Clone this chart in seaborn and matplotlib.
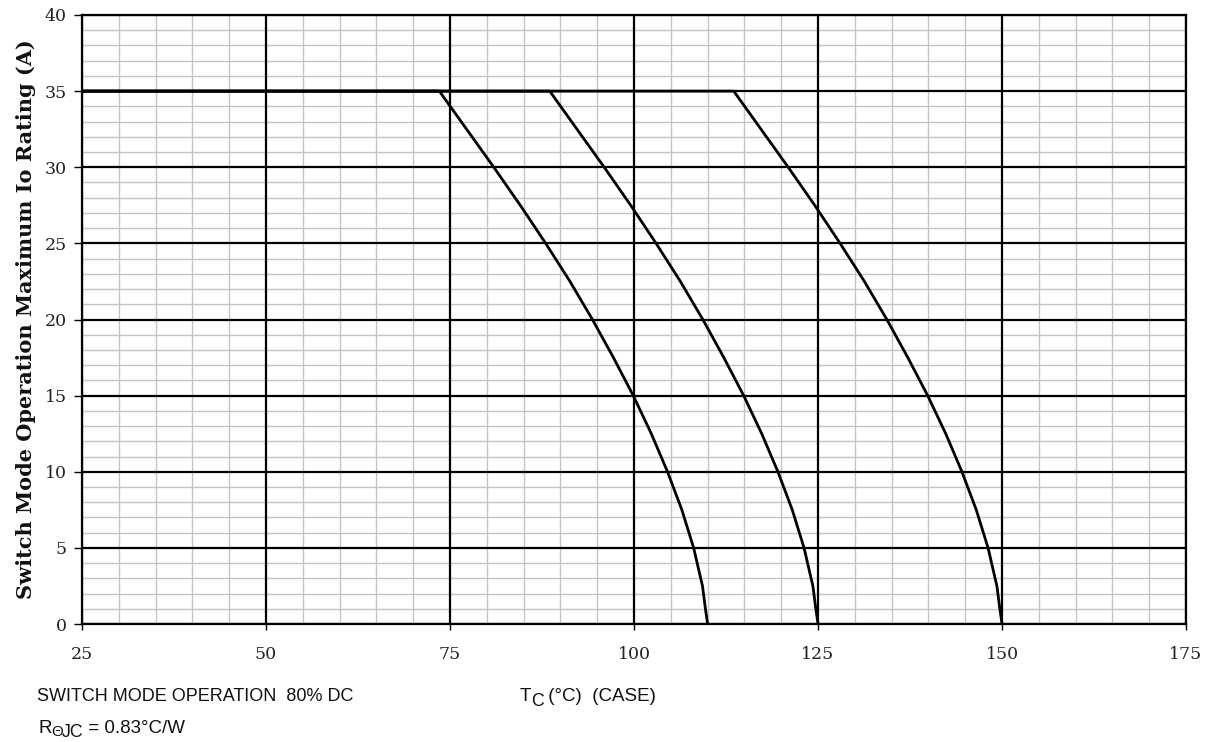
import matplotlib
matplotlib.use("Agg")
import matplotlib.pyplot as plt
import seaborn as sns
import pandas as pd
from matplotlib.ticker import MultipleLocator

# Data (case temperature vs. max Io)
io_levels   = [35, 35, 32.5, 30.0, 27.5, 25.0, 22.5, 20.0, 17.5, 15.0, 12.5, 10.0, 7.5, 5.0, 2.5, 1.0, 0.0]
curve_110_x = [25, 73.55, 77.25, 80.95, 84.55, 88.0, 91.3, 94.35, 97.2, 99.9, 102.35, 104.55, 106.5, 108.1, 109.3, 109.7, 110.0]
curve_125_x = [25, 88.55, 92.25, 95.95, 99.55, 103.0, 106.3, 109.35, 112.2, 114.9, 117.35, 119.55, 121.5, 123.1, 124.3, 124.7, 125.0]
curve_150_x = [25, 113.55, 117.25, 120.95, 124.55, 128.0, 131.3, 134.35, 137.2, 139.9, 142.35, 144.55, 146.5, 148.1, 149.3, 149.7, 150.0]

x_ticks = [25, 50, 75, 100, 125, 150, 175]
y_ticks = [0, 5, 10, 15, 20, 25, 30, 35, 40]

frames = []
for name, xs in [("110", curve_110_x), ("125", curve_125_x), ("150", curve_150_x)]:
    frames.append(pd.DataFrame({"Tc": xs, "Io": io_levels, "curve": name}))
df = pd.concat(frames, ignore_index=True)

sns.set_style("white")
plt.rcParams["font.family"] = ["DejaVu Serif"]

fig = plt.figure(figsize=(12.11, 7.42), dpi=100)
ax = fig.add_axes([0.0677, 0.1590, 0.9794 - 0.0677, 0.9798 - 0.1590])

# minor grid (gray)
ax.xaxis.set_minor_locator(MultipleLocator(5))
ax.yaxis.set_minor_locator(MultipleLocator(1))
ax.grid(which="minor", color="#c4c4c4", linewidth=1.0)
ax.grid(which="major", visible=False)
ax.set_axisbelow(True)
# major grid (black), drawn above the minor grid
for xv in x_ticks:
    ax.axvline(xv, color="black", linewidth=1.6, zorder=1.5)
for yv in y_ticks:
    ax.axhline(yv, color="black", linewidth=1.6, zorder=1.5)

sns.lineplot(data=df, x="Tc", y="Io", units="curve", estimator=None, sort=False,
             color="black", linewidth=2.0, ax=ax, zorder=3)

ax.set_xlim(25, 175)
ax.set_ylim(0, 40)
ax.set_xticks(x_ticks)
ax.set_yticks(y_ticks)
ax.set_xticklabels([str(v) for v in x_ticks], fontsize=12.5, family="DejaVu Serif", color="#222222")
ax.set_yticklabels([str(v) for v in y_ticks], fontsize=12.5, family="DejaVu Serif", color="#222222")
ax.tick_params(axis="x", which="major", direction="out", length=4, width=1, pad=12, color="black", bottom=True)
ax.tick_params(axis="y", which="major", direction="out", length=6, width=1, pad=5, color="black", left=True)
ax.tick_params(which="minor", length=0)
for s in ax.spines.values():
    s.set_color("black")
    s.set_linewidth(1.6)

ax.set_xlabel("")
ax.set_ylabel("Switch Mode Operation Maximum Io Rating (A)", fontsize=15,
              fontweight="bold", family="DejaVu Serif", labelpad=6, color="#111111")

sans = ["Liberation Sans", "DejaVu Sans"]
fs = 13.5
fig.text(37 / 1211, 1 - 701 / 742, "SWITCH MODE OPERATION  80% DC",
         fontsize=13, family=sans, va="baseline", ha="left", color="#111111")

renderer = fig.canvas.get_renderer()

def run_text(x_px, base_px, pieces):
    """Draw consecutive text pieces; each piece is (text, size, dy_px)."""
    x = x_px
    for txt, size, dy in pieces:
        t = fig.text(x / 1211, 1 - (base_px + dy) / 742, txt, fontsize=size,
                     family=sans, va="baseline", ha="left", color="#111111")
        bb = t.get_window_extent(renderer=renderer)
        x = bb.x1 - 0.5

run_text(520, 701, [("T", fs, 0), ("C", fs * 0.95, 5), (" (°C)  (CASE)", fs, 0)])
run_text(38, 733, [("R", fs, 0), ("Θ", fs * 0.8, 3), ("JC", fs * 0.95, 4), (" = 0.83°C/W", fs, 0)])

fig.savefig("out.png", dpi=100, facecolor="white")
